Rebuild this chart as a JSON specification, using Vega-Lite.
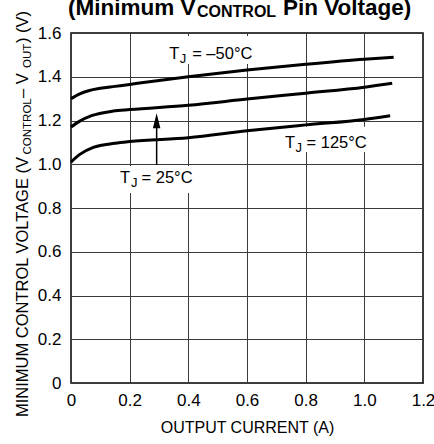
{
  "$schema": "https://vega.github.io/schema/vega-lite/v6.json",
  "width": 352,
  "height": 350,
  "autosize": "none",
  "padding": {"left": 71, "top": 33, "right": 11, "bottom": 61},
  "background": "white",
  "config": {
    "view": {"stroke": "black", "strokeWidth": 1.5},
    "font": "Liberation Sans, Arial, sans-serif",
    "text": {"font": "Liberation Sans, Arial, sans-serif"}
  },
  "datasets": {
    "curves": [
      {"T": "-50", "x": 0, "y": 1.30}, {"T": "-50", "x": 0.03, "y": 1.322}, {"T": "-50", "x": 0.06, "y": 1.336},
      {"T": "-50", "x": 0.1, "y": 1.347}, {"T": "-50", "x": 0.15, "y": 1.356}, {"T": "-50", "x": 0.2, "y": 1.365},
      {"T": "-50", "x": 0.4, "y": 1.400}, {"T": "-50", "x": 0.6, "y": 1.431}, {"T": "-50", "x": 0.8, "y": 1.457},
      {"T": "-50", "x": 1.0, "y": 1.480}, {"T": "-50", "x": 1.1, "y": 1.489},
      {"T": "25", "x": 0, "y": 1.17}, {"T": "25", "x": 0.03, "y": 1.197}, {"T": "25", "x": 0.07, "y": 1.222},
      {"T": "25", "x": 0.144, "y": 1.243}, {"T": "25", "x": 0.2, "y": 1.250}, {"T": "25", "x": 0.4, "y": 1.270},
      {"T": "25", "x": 0.6, "y": 1.298}, {"T": "25", "x": 0.8, "y": 1.325}, {"T": "25", "x": 1.0, "y": 1.352},
      {"T": "25", "x": 1.095, "y": 1.370},
      {"T": "125", "x": 0, "y": 1.01}, {"T": "125", "x": 0.03, "y": 1.045}, {"T": "125", "x": 0.076, "y": 1.077},
      {"T": "125", "x": 0.15, "y": 1.096}, {"T": "125", "x": 0.2, "y": 1.104}, {"T": "125", "x": 0.4, "y": 1.121},
      {"T": "125", "x": 0.6, "y": 1.153}, {"T": "125", "x": 0.8, "y": 1.180}, {"T": "125", "x": 1.0, "y": 1.205},
      {"T": "125", "x": 1.088, "y": 1.222}
    ],
    "boxes": [
      {"x": 0.327, "x2": 0.627, "y": 1.458, "y2": 1.586},
      {"x": 0.7228, "x2": 1.0126, "y": 1.056, "y2": 1.172},
      {"x": 0.157, "x2": 0.416, "y": 0.869, "y2": 0.992}
    ],
    "arrow": [{"x": 0.292, "y": 0.997, "y2": 1.20}],
    "arrowhead": [{"x": 0.292, "y": 1.1986}],
    "labels": [
      {"role": "main", "x": 0.335, "y": 1.4811, "text": "T"},
      {"role": "sub", "x": 0.371, "y": 1.4629, "text": "J"},
      {"role": "main", "x": 0.413, "y": 1.4811, "text": "= –50°C"},
      {"role": "main", "x": 0.7296, "y": 1.0729, "text": "T"},
      {"role": "sub", "x": 0.765, "y": 1.056, "text": "J"},
      {"role": "main", "x": 0.8028, "y": 1.0729, "text": "= 125°C"},
      {"role": "main", "x": 0.1671, "y": 0.9129, "text": "T"},
      {"role": "sub", "x": 0.2045, "y": 0.896, "text": "J"},
      {"role": "main", "x": 0.2403, "y": 0.9129, "text": "= 25°C"}
    ],
    "title": [
      {"role": "main", "x": -0.0102, "y": 1.6823, "text": "(Minimum V"},
      {"role": "sub", "x": 0.4296, "y": 1.6745, "text": "CONTROL"},
      {"role": "main", "x": 0.7228, "y": 1.6823, "text": " Pin Voltage)"}
    ],
    "ytitle": [
      {"role": "main", "x": -0.1466, "y": -0.1554, "text": "MINIMUM CONTROL VOLTAGE (V"},
      {"role": "sub", "x": -0.1364, "y": 1.0446, "text": "CONTROL"},
      {"role": "main", "x": -0.1466, "y": 1.3029, "text": " – V"},
      {"role": "sub", "x": -0.1364, "y": 1.44, "text": "OUT"},
      {"role": "main", "x": -0.1466, "y": 1.5543, "text": ") (V)"}
    ]
  },
  "encoding": {
    "x": {
      "field": "x", "type": "quantitative",
      "scale": {"domain": [0, 1.2], "nice": false, "zero": false},
      "axis": {
        "values": [0, 0.2, 0.4, 0.6, 0.8, 1.0, 1.2],
        "labelExpr": "datum.value == 0 ? '0' : format(datum.value, '.1f')",
        "title": "OUTPUT CURRENT (A)",
        "titleFont": "Liberation Sans, Arial, sans-serif", "titleFontSize": 16, "titleFontWeight": "normal", "titleColor": "black",
        "titlePadding": 11,
        "labelFont": "Liberation Sans, Arial, sans-serif", "labelFontSize": 17, "labelColor": "black", "labelPadding": 9,
        "labelFlush": false, "labelOverlap": false,
        "ticks": false, "tickSize": 0, "domain": false,
        "grid": true, "gridColor": "#3a3a3a", "gridWidth": 1, "gridOpacity": 1
      }
    },
    "y": {
      "field": "y", "type": "quantitative",
      "scale": {"domain": [0, 1.6], "nice": false, "zero": false},
      "axis": {
        "values": [0, 0.2, 0.4, 0.6, 0.8, 1.0, 1.2, 1.4, 1.6],
        "labelExpr": "datum.value == 0 ? '0' : format(datum.value, '.1f')",
        "title": null,
        "labelFont": "Liberation Sans, Arial, sans-serif", "labelFontSize": 17, "labelColor": "black", "labelPadding": 10,
        "labelFlush": false, "labelOverlap": false,
        "ticks": false, "tickSize": 0, "domain": false,
        "grid": true, "gridColor": "#3a3a3a", "gridWidth": 1, "gridOpacity": 1
      }
    }
  },
  "layer": [
    {
      "data": {"name": "boxes"},
      "mark": {"type": "rect", "color": "white", "opacity": 1},
      "encoding": {"x2": {"field": "x2"}, "y2": {"field": "y2"}}
    },
    {
      "data": {"name": "curves"},
      "mark": {"type": "line", "color": "black", "strokeWidth": 3, "interpolate": "monotone"},
      "encoding": {"detail": {"field": "T"}}
    },
    {
      "data": {"name": "arrow"},
      "mark": {"type": "rule", "color": "black", "strokeWidth": 1.5},
      "encoding": {"y2": {"field": "y2"}}
    },
    {
      "data": {"name": "arrowhead"},
      "mark": {"type": "point", "shape": "M0,-1L0.5,1L-0.5,1Z", "size": 225, "filled": true, "color": "black", "opacity": 1, "strokeWidth": 0}
    },
    {
      "data": {"name": "labels"},
      "transform": [{"filter": "datum.role == 'main'"}],
      "mark": {"type": "text", "align": "left", "baseline": "alphabetic", "fontSize": 16.5, "color": "black"},
      "encoding": {"text": {"field": "text"}}
    },
    {
      "data": {"name": "labels"},
      "transform": [{"filter": "datum.role == 'sub'"}],
      "mark": {"type": "text", "align": "left", "baseline": "alphabetic", "fontSize": 13, "color": "black"},
      "encoding": {"text": {"field": "text"}}
    },
    {
      "data": {"name": "title"},
      "transform": [{"filter": "datum.role == 'main'"}],
      "mark": {"type": "text", "align": "left", "baseline": "alphabetic", "fontSize": 22.5, "fontWeight": "bold", "color": "black"},
      "encoding": {"text": {"field": "text"}}
    },
    {
      "data": {"name": "title"},
      "transform": [{"filter": "datum.role == 'sub'"}],
      "mark": {"type": "text", "align": "left", "baseline": "alphabetic", "fontSize": 16, "fontWeight": "bold", "color": "black"},
      "encoding": {"text": {"field": "text"}}
    },
    {
      "data": {"name": "ytitle"},
      "transform": [{"filter": "datum.role == 'main'"}],
      "mark": {"type": "text", "align": "left", "baseline": "alphabetic", "angle": 270, "fontSize": 16.5, "color": "black"},
      "encoding": {"text": {"field": "text"}}
    },
    {
      "data": {"name": "ytitle"},
      "transform": [{"filter": "datum.role == 'sub'"}],
      "mark": {"type": "text", "align": "left", "baseline": "alphabetic", "angle": 270, "fontSize": 11.5, "color": "black"},
      "encoding": {"text": {"field": "text"}}
    }
  ]
}
